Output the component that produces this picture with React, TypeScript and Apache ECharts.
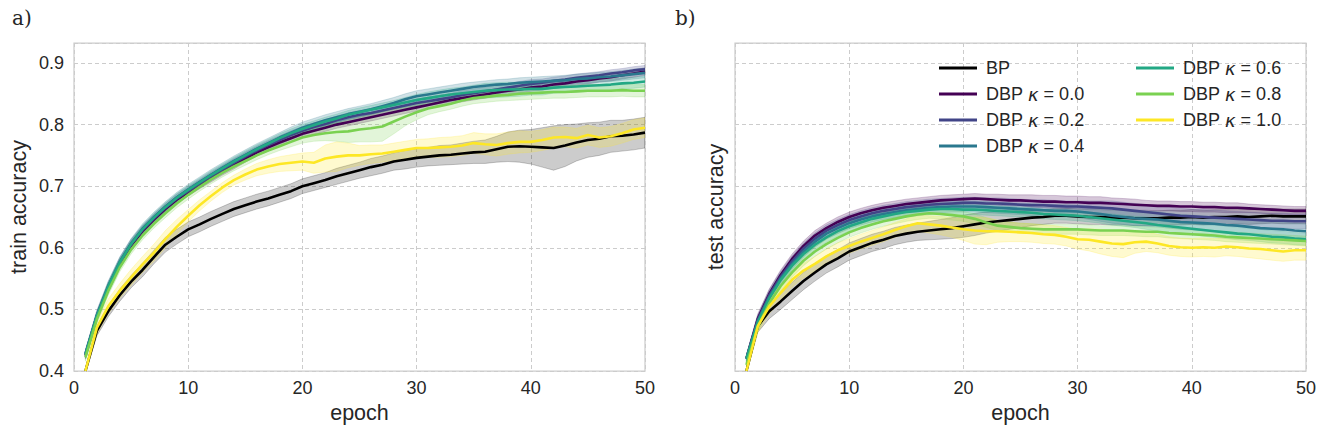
import React, { useEffect, useRef } from "react";
import * as echarts from "echarts";

const epochs = [1,2,3,4,5,6,7,8,9,10,11,12,13,14,15,16,17,18,19,20,21,22,23,24,25,26,27,28,29,30,31,32,33,34,35,36,37,38,39,40,41,42,43,44,45,46,47,48,49,50];

const names = ["BP", "DBP κ = 0.0", "DBP κ = 0.2", "DBP κ = 0.4", "DBP κ = 0.6", "DBP κ = 0.8", "DBP κ = 1.0"];
const colors = ["#000000", "#440154", "#414487", "#2a788e", "#22a884", "#7ad151", "#fde725"];

const xTicks = [0, 10, 20, 30, 40, 50];
const yTicks = [0.4, 0.5, 0.6, 0.7, 0.8, 0.9];

// ---- train accuracy (means) ----
const trainBP = [.400,.465,.497,.523,.545,.564,.585,.605,.618,.630,.638,.647,.655,.663,.669,.675,.680,.686,.692,.700,.705,.710,.716,.721,.726,.731,.735,.740,.743,.746,.748,.750,.751,.753,.755,.756,.760,.764,.765,.764,.763,.762,.766,.771,.775,.777,.781,.782,.784,.787];
const trainK00 = [.425,.488,.535,.574,.604,.627,.646,.663,.678,.690,.702,.713,.724,.734,.745,.755,.763,.771,.778,.785,.790,.795,.800,.804,.808,.812,.816,.820,.824,.828,.832,.836,.840,.843,.846,.849,.852,.855,.857,.860,.862,.865,.867,.870,.872,.875,.877,.880,.883,.886];
const trainK02 = [.428,.490,.537,.576,.606,.629,.648,.665,.680,.692,.704,.716,.727,.738,.748,.758,.767,.775,.783,.790,.796,.801,.807,.812,.816,.819,.823,.827,.831,.835,.838,.841,.844,.848,.851,.854,.857,.860,.863,.866,.868,.871,.873,.876,.878,.880,.883,.885,.888,.890];
const trainK04 = [.428,.490,.538,.577,.607,.631,.650,.667,.682,.695,.707,.719,.730,.741,.751,.761,.770,.779,.787,.795,.801,.807,.812,.817,.821,.825,.830,.835,.841,.846,.849,.852,.855,.858,.861,.863,.865,.866,.868,.869,.870,.871,.872,.874,.875,.877,.878,.880,.882,.884];
const trainK06 = [.426,.489,.537,.576,.606,.630,.649,.666,.681,.694,.706,.718,.729,.740,.750,.760,.769,.778,.786,.793,.799,.805,.810,.816,.820,.824,.828,.832,.836,.840,.843,.846,.849,.851,.853,.855,.856,.857,.857,.858,.858,.860,.861,.862,.863,.864,.865,.867,.868,.870];
const trainK08 = [.422,.484,.530,.568,.597,.620,.639,.656,.672,.686,.699,.711,.722,.732,.741,.750,.758,.765,.772,.779,.783,.786,.788,.789,.792,.794,.797,.805,.813,.820,.826,.830,.834,.839,.843,.845,.847,.848,.850,.851,.852,.853,.853,.854,.855,.855,.855,.856,.855,.855];
const trainK10 = [.400,.470,.505,.530,.552,.573,.592,.614,.634,.652,.669,.684,.698,.710,.719,.727,.732,.736,.738,.740,.738,.745,.748,.750,.750,.752,.753,.756,.759,.762,.762,.763,.764,.766,.770,.768,.767,.770,.772,.772,.775,.779,.780,.778,.783,.779,.781,.786,.792,.795];

// ---- train accuracy (std, shaded band half-width) ----
const trainBPStd = [.004,.008,.009,.010,.010,.011,.011,.012,.012,.012,.012,.012,.012,.012,.012,.012,.012,.012,.012,.012,.012,.012,.013,.013,.013,.014,.014,.014,.015,.015,.015,.016,.016,.017,.018,.019,.021,.024,.026,.028,.032,.036,.034,.030,.028,.027,.026,.025,.025,.025];
const trainK00Std = [.006,.007,.007,.007,.007,.007,.006,.006,.006,.006,.006,.006,.006,.006,.006,.006,.006,.006,.006,.006,.006,.006,.006,.006,.006,.006,.006,.006,.006,.006,.006,.006,.006,.006,.006,.006,.006,.006,.006,.006,.006,.006,.006,.006,.006,.006,.006,.006,.006,.006];
const trainK02Std = [.006,.008,.008,.008,.008,.007,.007,.007,.007,.007,.007,.007,.007,.007,.007,.007,.007,.007,.007,.007,.007,.007,.007,.007,.007,.007,.007,.007,.007,.007,.007,.007,.007,.007,.007,.007,.007,.007,.007,.007,.006,.006,.006,.006,.006,.006,.006,.006,.006,.006];
const trainK04Std = [.006,.008,.008,.008,.008,.008,.008,.008,.008,.008,.008,.008,.008,.008,.008,.008,.008,.008,.009,.009,.009,.009,.009,.009,.009,.009,.009,.009,.009,.009,.009,.009,.009,.009,.008,.008,.008,.008,.008,.008,.008,.008,.008,.008,.008,.008,.008,.008,.008,.008];
const trainK06Std = [.006,.007,.007,.007,.007,.007,.007,.007,.007,.007,.007,.007,.007,.007,.007,.007,.007,.007,.007,.007,.007,.007,.007,.007,.007,.007,.007,.007,.008,.009,.010,.010,.010,.010,.011,.012,.012,.012,.011,.010,.010,.009,.009,.009,.009,.009,.009,.009,.009,.009];
const trainK08Std = [.006,.007,.007,.007,.007,.007,.007,.007,.007,.007,.007,.007,.007,.007,.007,.007,.007,.007,.008,.009,.010,.012,.015,.018,.020,.022,.024,.020,.015,.012,.010,.009,.009,.009,.009,.009,.009,.009,.010,.010,.010,.010,.010,.010,.010,.010,.010,.010,.010,.010];
const trainK10Std = [.004,.010,.012,.012,.013,.013,.014,.014,.012,.010,.009,.008,.008,.008,.009,.010,.011,.012,.013,.014,.017,.022,.024,.020,.016,.015,.014,.014,.014,.014,.015,.016,.016,.016,.017,.017,.018,.018,.018,.017,.017,.017,.016,.016,.016,.016,.016,.016,.016,.016];

// ---- test accuracy (means) ----
const testBP = [.400,.473,.497,.513,.530,.546,.560,.573,.583,.594,.601,.608,.613,.619,.623,.626,.628,.630,.632,.635,.638,.641,.643,.645,.647,.649,.650,.652,.652,.651,.650,.650,.649,.649,.648,.648,.648,.649,.649,.650,.649,.650,.650,.651,.650,.651,.652,.651,.651,.651];
const testK00 = [.420,.485,.525,.556,.582,.603,.620,.632,.642,.650,.656,.661,.665,.668,.671,.673,.675,.677,.678,.679,.680,.679,.678,.677,.677,.676,.675,.675,.674,.674,.673,.673,.672,.671,.670,.669,.668,.668,.667,.667,.666,.666,.665,.665,.664,.663,.662,.661,.660,.660];
const testK02 = [.420,.483,.523,.553,.578,.599,.615,.628,.637,.645,.651,.656,.660,.663,.666,.668,.670,.671,.672,.673,.673,.672,.672,.671,.670,.669,.669,.668,.667,.667,.666,.665,.664,.662,.660,.658,.656,.654,.652,.651,.650,.649,.648,.647,.646,.645,.644,.644,.643,.643];
const testK04 = [.420,.481,.520,.550,.574,.594,.610,.623,.632,.640,.646,.651,.655,.658,.661,.663,.665,.666,.667,.667,.667,.666,.665,.664,.663,.662,.661,.660,.660,.659,.657,.655,.652,.650,.648,.647,.646,.644,.642,.641,.640,.639,.637,.636,.634,.632,.631,.630,.628,.627];
const testK06 = [.420,.479,.518,.548,.571,.590,.605,.617,.627,.635,.641,.647,.651,.655,.658,.660,.662,.663,.663,.662,.662,.661,.660,.659,.658,.657,.655,.654,.653,.652,.650,.648,.646,.644,.642,.640,.637,.635,.633,.631,.629,.627,.625,.623,.622,.620,.618,.617,.615,.614];
const testK08 = [.410,.472,.510,.538,.560,.579,.594,.606,.616,.625,.632,.638,.643,.647,.651,.654,.656,.655,.653,.651,.647,.641,.636,.634,.632,.631,.630,.630,.630,.630,.629,.628,.628,.628,.627,.626,.626,.624,.623,.622,.621,.620,.618,.617,.616,.615,.614,.613,.612,.611];
const testK10 = [.400,.473,.505,.527,.548,.563,.574,.586,.596,.603,.610,.616,.622,.629,.635,.640,.638,.636,.633,.630,.628,.627,.627,.626,.625,.624,.622,.621,.618,.614,.613,.610,.607,.606,.609,.610,.607,.603,.601,.600,.601,.600,.602,.601,.599,.598,.596,.594,.596,.596];

// ---- test accuracy (std) ----
const testBPStd = [.004,.010,.012,.013,.014,.014,.014,.014,.014,.014,.014,.014,.014,.014,.014,.014,.015,.016,.017,.018,.018,.017,.016,.015,.014,.013,.012,.012,.012,.012,.012,.012,.012,.012,.012,.012,.012,.012,.012,.012,.012,.012,.012,.012,.012,.012,.012,.012,.012,.012];
const testK00Std = [.006,.008,.008,.008,.008,.008,.008,.008,.008,.008,.008,.008,.008,.008,.008,.008,.008,.008,.008,.008,.008,.008,.009,.009,.009,.010,.010,.010,.010,.010,.010,.010,.009,.009,.009,.008,.008,.008,.008,.008,.008,.008,.008,.008,.007,.007,.007,.007,.007,.007];
const testK02Std = [.006,.008,.009,.009,.009,.009,.009,.009,.009,.009,.009,.009,.009,.009,.009,.009,.009,.009,.009,.009,.009,.009,.009,.009,.009,.009,.009,.009,.009,.009,.010,.011,.012,.012,.012,.012,.012,.012,.012,.012,.012,.012,.012,.012,.012,.012,.012,.012,.012,.012];
const testK04Std = [.006,.008,.009,.009,.009,.009,.009,.009,.009,.009,.009,.009,.009,.009,.009,.009,.009,.009,.009,.009,.009,.009,.009,.009,.009,.010,.010,.010,.010,.010,.011,.012,.012,.012,.012,.012,.012,.012,.012,.012,.012,.012,.012,.012,.012,.012,.012,.012,.012,.012];
const testK06Std = [.006,.008,.008,.008,.008,.008,.008,.008,.008,.008,.008,.008,.008,.008,.008,.008,.008,.008,.008,.008,.008,.008,.008,.008,.008,.008,.008,.008,.008,.008,.008,.008,.009,.009,.009,.010,.010,.010,.010,.010,.010,.010,.010,.010,.010,.010,.010,.010,.010,.010];
const testK08Std = [.006,.008,.008,.008,.008,.008,.008,.008,.008,.008,.008,.008,.008,.008,.008,.008,.008,.008,.008,.008,.008,.008,.008,.008,.008,.008,.008,.008,.008,.008,.008,.008,.008,.008,.008,.008,.008,.008,.008,.008,.008,.008,.008,.008,.008,.008,.008,.008,.008,.008];
const testK10Std = [.004,.010,.012,.012,.012,.012,.012,.012,.012,.012,.012,.012,.012,.012,.012,.013,.014,.015,.016,.018,.022,.022,.018,.016,.015,.015,.015,.015,.015,.016,.018,.020,.021,.022,.018,.016,.015,.015,.015,.015,.015,.015,.015,.015,.015,.016,.016,.016,.016,.016];

const trainMeans = [trainBP, trainK00, trainK02, trainK04, trainK06, trainK08, trainK10];
const trainStds = [trainBPStd, trainK00Std, trainK02Std, trainK04Std, trainK06Std, trainK08Std, trainK10Std];
const testMeans = [testBP, testK00, testK02, testK04, testK06, testK08, testK10];
const testStds = [testBPStd, testK00Std, testK02Std, testK04Std, testK06Std, testK08Std, testK10Std];

const FONT = "Liberation Sans";
const TXT = "#262626";

function hexToRgba(hex: string, a: number) {
  const r = parseInt(hex.slice(1, 3), 16);
  const g = parseInt(hex.slice(3, 5), 16);
  const b = parseInt(hex.slice(5, 7), 16);
  return `rgba(${r},${g},${b},${a})`;
}

function bandSeries(panel: number, idx: number, mean: number[], std: number[]) {
  const col = colors[idx];
  return {
    type: "custom",
    name: names[idx] + " band " + panel,
    xAxisIndex: panel,
    yAxisIndex: panel,
    clip: true,
    silent: true,
    z: 1,
    data: [[epochs[0], mean[0]]],
    encode: { x: 0, y: 1 },
    renderItem: (_params: any, api: any) => {
      const pts: number[][] = [];
      for (let i = 0; i < epochs.length; i++) pts.push(api.coord([epochs[i], mean[i] + std[i]]));
      for (let i = epochs.length - 1; i >= 0; i--) pts.push(api.coord([epochs[i], mean[i] - std[i]]));
      return {
        type: "polygon",
        shape: { points: pts },
        style: { fill: hexToRgba(col, idx === 0 ? 0.2 : 0.22), stroke: hexToRgba(col, 0.25), lineWidth: 0.8 },
      };
    },
  };
}

function lineSeries(panel: number, idx: number, mean: number[]) {
  return {
    type: "line",
    name: names[idx],
    xAxisIndex: panel,
    yAxisIndex: panel,
    data: epochs.map((e, i) => [e, mean[i]]),
    symbol: "none",
    showSymbol: false,
    lineStyle: { width: 2.6, color: colors[idx] },
    itemStyle: { color: colors[idx] },
    z: 3,
  };
}

export default function App() {
  const ref = useRef<HTMLDivElement>(null);
  useEffect(() => {
    if (!ref.current) return;
    const chart = echarts.init(ref.current, undefined, { renderer: "svg" });
    const gridBase = { top: 43, height: 328, width: 571, show: true, borderColor: "#cccccc", borderWidth: 1.25, backgroundColor: "#ffffff" };
    const xAxisBase = (gi: number) => ({
      type: "value",
      gridIndex: gi,
      min: xTicks[0],
      max: xTicks[xTicks.length - 1],
      interval: 10,
      name: "epoch",
      nameLocation: "middle",
      nameGap: 31,
      nameTextStyle: { fontFamily: FONT, fontSize: 21.5, color: TXT },
      axisLine: { show: false },
      axisTick: { show: false },
      axisLabel: { fontFamily: FONT, fontSize: 18, color: TXT, margin: 8 },
      splitLine: { show: true, lineStyle: { color: "#cccccc", type: [4, 3], width: 1 } },
    });
    const yAxisBase = (gi: number, name: string, showLabels: boolean) => ({
      type: "value",
      gridIndex: gi,
      min: yTicks[0],
      max: 0.9325,
      interval: 0.1,
      name,
      nameLocation: "middle",
      nameGap: showLabels ? 44 : 8,
      nameTextStyle: { fontFamily: FONT, fontSize: 21.5, color: TXT },
      axisLine: { show: false },
      axisTick: { show: false },
      axisLabel: { show: showLabels, fontFamily: FONT, fontSize: 18, color: TXT, margin: 10, showMaxLabel: false },
      splitLine: { show: true, lineStyle: { color: "#cccccc", type: [4, 3], width: 1 } },
    });

    const series: any[] = [];
    [trainMeans, testMeans].forEach((means, panel) => {
      const stds = panel === 0 ? trainStds : testStds;
      means.forEach((m, i) => series.push(bandSeries(panel, i, m, stds[i])));
      means.forEach((m, i) => series.push(lineSeries(panel, i, m)));
    });

    const legendBase = {
      orient: "vertical",
      top: 53,
      icon: "rect",
      itemWidth: 38,
      itemHeight: 3,
      itemGap: 6,
      selectedMode: false,
      formatter: (n: string) => n.replace("κ", "{k|κ}"),
      textStyle: {
        fontFamily: FONT,
        fontSize: 18,
        color: TXT,
        lineHeight: 20,
        padding: [0, 0, 0, 4],
        rich: { k: { fontFamily: "DejaVu Sans", fontStyle: "italic", fontSize: 18, color: TXT, lineHeight: 20 } },
      },
    };

    chart.setOption({
      animation: false,
      backgroundColor: "#ffffff",
      grid: [
        { ...gridBase, left: 74 },
        { ...gridBase, left: 735 },
      ],
      xAxis: [xAxisBase(0), xAxisBase(1)],
      yAxis: [yAxisBase(0, "train accuracy", true), yAxisBase(1, "test accuracy", false)],
      legend: [
        { ...legendBase, left: 934, data: names.slice(0, 4) },
        { ...legendBase, left: 1131, data: names.slice(4) },
      ],
      graphic: [
        { type: "text", left: 12, top: 8, style: { text: "a)", fontFamily: "DejaVu Serif", fontSize: 20, fill: TXT } },
        { type: "text", left: 675, top: 8, style: { text: "b)", fontFamily: "DejaVu Serif", fontSize: 20, fill: TXT } },
      ],
      series,
    });
    return () => chart.dispose();
  }, []);
  return <div ref={ref} style={{ position: "fixed", left: 0, top: 0, width: 1328, height: 436 }} />;
}
